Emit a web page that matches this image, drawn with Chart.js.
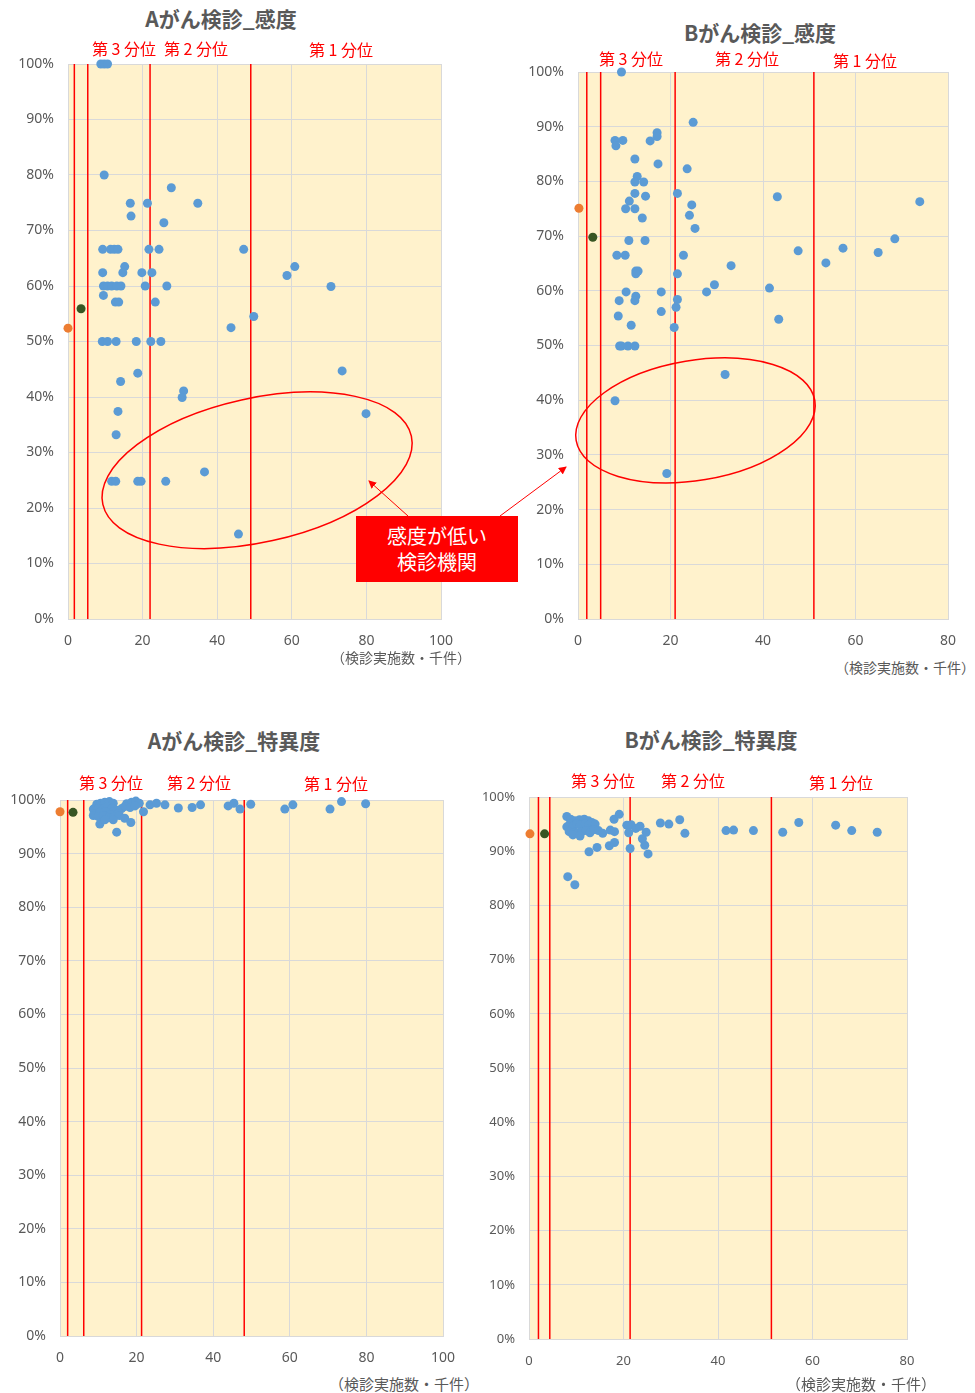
<!DOCTYPE html>
<html>
<head>
<meta charset="utf-8">
<script src="https://cdn.jsdelivr.net/npm/chart.js@4.4.0/dist/chart.umd.min.js"></script>
<style>
body{margin:0;background:#fff;width:975px;height:1393px;position:relative;overflow:hidden;font-family:'Noto Sans CJK JP','Noto Sans',sans-serif;}
canvas{position:absolute;}
.t{position:absolute;transform:translate(-50%,-50%);white-space:nowrap;}
.ttl{font-size:21px;font-weight:bold;color:#595959;}
.q{font-size:16px;color:#FF0000;}
.ax{font-size:14px;color:#595959;}
#box{position:absolute;left:356px;top:516px;width:162px;height:66px;background:#FF0000;color:#fff;font-size:20px;line-height:26px;text-align:center;box-sizing:border-box;padding-top:7px;z-index:5;}
svg{position:absolute;left:0;top:0;z-index:6;}
</style>
</head>
<body>
<canvas id="c1"></canvas>
<canvas id="c2"></canvas>
<canvas id="c3"></canvas>
<canvas id="c4"></canvas>

<script>
// 検診実施数(千件) と 感度/特異度(%)
const aSensBlue = [[8.8,100],[9.7,100],[10.6,100],[9.7,80],[27.7,77.7],[16.7,74.9],[21.3,74.9],[34.8,74.9],
  [16.9,72.6],[25.7,71.4],[9.3,66.6],[11.4,66.6],[12.4,66.6],[13.4,66.6],[21.7,66.6],[24.4,66.6],[47.1,66.6],
  [15.2,63.5],[60.8,63.5],[9.3,62.4],[14.7,62.4],[19.8,62.4],[22.5,62.4],[58.7,61.9],
  [9.5,60],[10.6,60],[11.7,60],[13.1,60],[14.2,60],[20.7,60],[26.5,60],[70.5,59.9],[9.5,58.3],
  [12.7,57.1],[13.6,57.1],[23.4,57.1],[49.8,54.5],[43.7,52.5],
  [9.2,50],[10.6,50],[12.9,50],[18.3,50],[22.2,50],[24.9,50],
  [18.7,44.3],[14.1,42.8],[31.0,41.1],[30.6,39.9],[13.4,37.4],[73.5,44.7],[79.9,37.0],[12.9,33.2],
  [36.6,26.5],[11.7,24.8],[12.8,24.8],[18.7,24.8],[19.6,24.8],[26.2,24.8],[45.7,15.3]];
const aSensOrange = [[0,52.4]];
const aSensGreen = [[3.5,55.9]];
const aSensLines = [1.7,5.3,22,49];

const bSensBlue = [[9.4,100],[24.9,90.8],[17.1,88.9],[17.1,88.2],[8.0,87.5],[8.2,86.5],[9.7,87.5],[15.6,87.4],
  [12.3,84.1],[17.3,83.2],[23.6,82.3],[12.8,80.9],[12.3,79.9],[14.2,79.9],[12.3,77.8],[14.6,77.3],[21.5,77.8],
  [43.1,77.2],[73.9,76.3],[11.1,76.4],[24.6,75.7],[10.3,75],[12.3,75],[24.1,73.8],[13.9,73.3],[25.3,71.4],
  [11.0,69.2],[14.5,69.2],[68.5,69.5],[57.3,67.8],[47.6,67.3],[64.9,67.0],[8.4,66.5],[10.2,66.5],[22.8,66.5],
  [53.6,65.1],[33.1,64.6],[12.5,63.6],[13.0,63.6],[12.5,63.1],[21.5,63.1],[29.5,61.1],[41.4,60.5],
  [27.8,59.8],[10.4,59.8],[18.0,59.8],[12.5,59.0],[12.3,58.2],[8.9,58.2],[21.5,58.4],[21.2,57.0],[18.0,56.2],
  [8.7,55.4],[43.4,54.8],[11.5,53.7],[20.8,53.3],[9.0,49.9],[9.4,49.9],[10.8,49.9],[12.3,49.9],
  [31.8,44.7],[8.0,39.9],[19.2,26.6]];
const bSensOrange = [[0.2,75.1]];
const bSensGreen = [[3.2,69.8]];
const bSensLines = [1.9,4.9,21,51];

const aSpecBlue = [[9.6,99.2],[10.6,99.4],[11.7,99.6],[12.9,99.7],[13.9,99.4],[17.4,99.3],[18.7,99.6],[19.8,99.8],[20.7,99.4],
  [8.7,98.3],[10.0,98.4],[11.3,98.3],[12.4,98.8],[13.5,98.4],[14.8,98.1],[16.1,98.4],[17.0,98.8],[18.3,98.6],[19.6,98.9],
  [9.1,97.5],[10.4,97.7],[11.7,97.8],[13.9,97.8],[15.2,97.5],[13.1,97.3],
  [8.7,97.1],[10.0,96.9],[11.3,97.1],[12.6,96.7],[14.1,96.9],[15.5,97.1],[16.9,96.6],
  [10.4,95.5],[14.8,94.0],[18.5,95.8],[13.9,96.3],[11.7,96.3],
  [21.8,97.8],[23.5,99.1],[25.2,99.4],[27.4,99.1],[30.9,98.5],[34.5,98.6],[36.7,99.1],
  [43.9,98.9],[45.4,99.4],[47.0,98.3],[49.8,99.2],[58.7,98.3],[60.8,99.1],[70.5,98.3],[73.5,99.7],[79.8,99.3]];
const aSpecOrange = [[0,97.8]];
const aSpecGreen = [[3.4,97.7]];
const aSpecLines = [2.0,6.2,21.3,48.1];

const bSpecBlue = [[8.0,96.4],[8.8,95.9],[9.7,95.6],[10.7,95.8],[11.7,95.9],[12.6,95.6],
  [8.0,94.5],[8.7,95.1],[9.4,94.6],[10.1,95.1],[10.8,94.8],[11.9,95.1],[12.6,94.8],[13.3,95.3],[14.0,95.0],
  [8.5,93.6],[9.4,93.4],[10.2,93.3],[11.2,93.6],[12.1,93.8],[12.9,93.4],[13.8,94.0],[14.7,93.8],[15.6,93.3],[9.3,93.0],[10.8,92.8],
  [8.2,85.3],[9.7,83.8],[12.7,89.9],[14.4,90.7],[17.0,91.0],[18.1,91.6],[18.0,95.9],[19.1,96.8],[17.2,93.9],[18.1,93.6],
  [20.7,94.8],[21.6,94.9],[21.1,93.4],[21.4,90.5],[22.6,94.2],[23.5,94.6],[24.8,93.5],[24.0,92.3],[24.5,91.1],[25.2,89.5],
  [27.8,95.2],[29.6,95.0],[31.9,95.8],[33.0,93.3],
  [41.7,93.8],[43.3,93.9],[47.5,93.8],[53.7,93.5],[57.1,95.3],[64.9,94.8],[68.3,93.8],[73.7,93.5]];
const bSpecOrange = [[0.2,93.2]];
const bSpecGreen = [[3.3,93.2]];
const bSpecLines = [2.0,4.4,21.4,51.3];

const quartiles = ['第 3 分位','第 2 分位','第 1 分位'];

Chart.defaults.font.family = "'Noto Sans','Noto Sans CJK JP',sans-serif";
Chart.defaults.color = '#595959';

// canvas margins around the plot area
const PAD_T = 24, PAD_R = 30, Y_W = 60, X_H = 30;

function pts(a){ return a.map(p => ({x:p[0], y:p[1]})); }

function makeChart(id, plot, xMax, blue, orange, green, lines, ring, fs){
  const cv = document.getElementById(id);
  const left = plot.l - Y_W, top = plot.t - PAD_T;
  cv.width = plot.r - left + PAD_R; cv.height = plot.b - top + X_H;
  cv.style.left = left + 'px'; cv.style.top = top + 'px';
  const ds = [
    {data: pts(blue), backgroundColor:'#5B9BD5', borderWidth:0, pointRadius:4.5, clip:false},
    {data: pts(orange), backgroundColor:'#ED7D31', borderWidth:0, pointRadius:4.5, clip:false},
    {data: pts(green), backgroundColor:'#375623', borderWidth:0, pointRadius:4.5, clip:false}
  ];
  lines.forEach(v => ds.push({data:[{x:v,y:0},{x:v,y:100}], showLine:true, borderColor:'#FF0000', borderWidth:1.5, pointRadius:0}));
  new Chart(cv, {
    type:'scatter',
    data:{datasets: ds},
    options:{
      responsive:false, animation:false,
      layout:{autoPadding:false, padding:{left:0, top:PAD_T, right:PAD_R, bottom:0}},
      plugins:{legend:{display:false}, tooltip:{enabled:false}},
      scales:{
        x:{min:0, max:xMax, ticks:{stepSize:20, padding:14, maxRotation:0, font:{size:fs}},
           grid:{color:'#d9d9d9', drawTicks:false}, border:{color:'#d9d9d9'},
           afterFit(s){ s.height = X_H; }},
        y:{min:0, max:100, ticks:{stepSize:10, padding:14, font:{size:fs}, callback:v => v + '%'},
           grid:{color:'#d9d9d9', drawTicks:false}, border:{color:'#d9d9d9'},
           afterFit(s){ s.width = Y_W; }}
      }
    },
    plugins:[{
      id:'bgring',
      beforeDraw(c){
        const a = c.chartArea, ctx = c.ctx;
        ctx.save(); ctx.fillStyle = '#FFF2CC';
        ctx.fillRect(a.left, a.top, a.right - a.left, a.bottom - a.top);
        ctx.restore();
      },
      afterDatasetsDraw(c){
        if(!ring) return;
        const ctx = c.ctx;
        const cx = c.scales.x.getPixelForValue(ring.x), cy = c.scales.y.getPixelForValue(ring.y);
        ctx.save(); ctx.strokeStyle = '#FF0000'; ctx.lineWidth = 1.5;
        ctx.beginPath(); ctx.ellipse(cx, cy, ring.rx, ring.ry, ring.rot, 0, Math.PI*2); ctx.stroke();
        ctx.restore();
      }
    }]
  });
}

makeChart('c1', {l:68, t:64, r:441, b:619}, 100, aSensBlue, aSensOrange, aSensGreen, aSensLines,
  {x:50.7, y:26.8, rx:158, ry:72, rot:-0.218}, 14);
makeChart('c2', {l:578, t:72, r:948, b:619}, 80, bSensBlue, bSensOrange, bSensGreen, bSensLines,
  {x:25.4, y:36.3, rx:121, ry:60, rot:-0.166}, 14);
makeChart('c3', {l:60, t:800, r:443, b:1336}, 100, aSpecBlue, aSpecOrange, aSpecGreen, aSpecLines, null, 14);
makeChart('c4', {l:529, t:797, r:907, b:1339}, 80, bSpecBlue, bSpecOrange, bSpecGreen, bSpecLines, null, 13);

function label(txt, x, y, cls, size){
  const d = document.createElement('div');
  d.className = 't ' + cls; d.textContent = txt;
  d.style.left = x + 'px'; d.style.top = y + 'px';
  if(size) d.style.fontSize = size + 'px';
  document.body.appendChild(d);
}
label('Aがん検診_感度', 221, 18, 'ttl');
label('Bがん検診_感度', 760, 32, 'ttl');
label('Aがん検診_特異度', 234, 740, 'ttl');
label('Bがん検診_特異度', 711, 739, 'ttl');

[[124,48],[196,48],[341,49]].forEach((p,i) => label(quartiles[i], p[0], p[1], 'q'));
[[631,58],[747,58],[865,60]].forEach((p,i) => label(quartiles[i], p[0], p[1], 'q'));
[[111,782],[199,782],[336,783]].forEach((p,i) => label(quartiles[i], p[0], p[1], 'q'));
[[603,780],[693,780],[841,782]].forEach((p,i) => label(quartiles[i], p[0], p[1], 'q'));

label('（検診実施数・千件）', 401, 657, 'ax', 14);
label('（検診実施数・千件）', 905, 667, 'ax', 14);
label('（検診実施数・千件）', 404, 1383, 'ax', 15);
label('（検診実施数・千件）', 861, 1383, 'ax', 15);

const box = document.createElement('div');
box.id = 'box'; box.innerHTML = '感度が低い<br>検診機関';
document.body.appendChild(box);
</script>
<svg width="975" height="1393">
  <defs>
    <marker id="ah" markerWidth="8" markerHeight="8" refX="7" refY="4" orient="auto" markerUnits="userSpaceOnUse">
      <path d="M0,0 L8,4 L0,8 z" fill="#FF0000"/>
    </marker>
  </defs>
  <line x1="408" y1="516" x2="369" y2="481" stroke="#FF0000" stroke-width="1" marker-end="url(#ah)"/>
  <line x1="500" y1="516" x2="566" y2="467" stroke="#FF0000" stroke-width="1" marker-end="url(#ah)"/>
</svg>
</body>
</html>
